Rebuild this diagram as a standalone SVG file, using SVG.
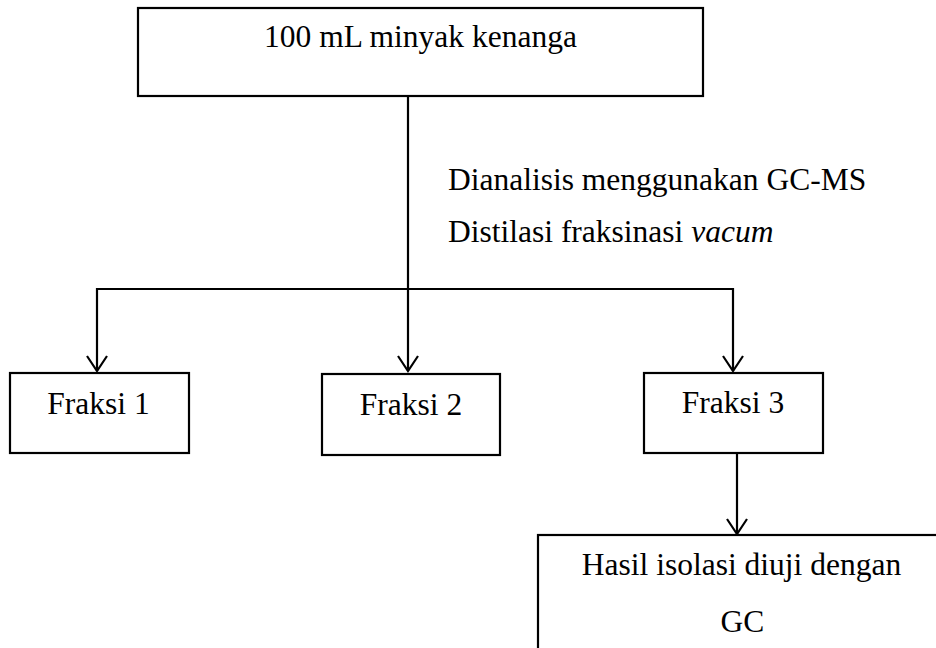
<svg xmlns="http://www.w3.org/2000/svg" width="936" height="648" viewBox="0 0 936 648">
<style>
.box{fill:#fff;stroke:#000;stroke-width:2.2}
.t{font-family:"Liberation Serif","Times New Roman",serif;font-size:31.5px;fill:#000}
.c{stroke:#000;stroke-width:2.2;fill:none}
</style>
<defs>
<marker id="arr" markerUnits="userSpaceOnUse" viewBox="0 0 18 22" refX="16" refY="11" markerWidth="18" markerHeight="22" orient="auto">
<path d="M1,1 L16,11 L1,21" fill="none" stroke="#000" stroke-width="2.2"/>
</marker>
</defs>
<rect width="936" height="648" fill="#fff"/>
<g id="connectors">
<line class="c" x1="408" y1="96" x2="408" y2="371" marker-end="url(#arr)"/>
<line class="c" x1="97" y1="289" x2="733" y2="289"/>
<line class="c" x1="97" y1="288" x2="97" y2="371" marker-end="url(#arr)"/>
<line class="c" x1="733" y1="288" x2="733" y2="371" marker-end="url(#arr)"/>
<line class="c" x1="737" y1="453" x2="737" y2="534" marker-end="url(#arr)"/>
</g>
<g id="n_top">
<rect class="box" x="138" y="8" width="565" height="88"/>
<text class="t" x="420.5" y="47" text-anchor="middle">100 mL minyak kenanga</text>
</g>
<g id="label">
<text class="t" x="448" y="190">Dianalisis menggunakan GC-MS</text>
<text class="t" x="448" y="242">Distilasi fraksinasi <tspan font-style="italic">vacum</tspan></text>
</g>
<g id="n_f1">
<rect class="box" x="10" y="373" width="179" height="80"/>
<text class="t" x="98.5" y="414" text-anchor="middle">Fraksi 1</text>
</g>
<g id="n_f2">
<rect class="box" x="322" y="374" width="178" height="81"/>
<text class="t" x="411" y="415" text-anchor="middle">Fraksi 2</text>
</g>
<g id="n_f3">
<rect class="box" x="644" y="373" width="179" height="80"/>
<text class="t" x="733" y="413" text-anchor="middle">Fraksi 3</text>
</g>
<g id="n_hasil">
<rect class="box" x="538" y="535" width="420" height="140"/>
<text class="t" x="741.5" y="575" text-anchor="middle">Hasil isolasi diuji dengan</text>
<text class="t" x="742.5" y="632" text-anchor="middle">GC</text>
</g>
</svg>
